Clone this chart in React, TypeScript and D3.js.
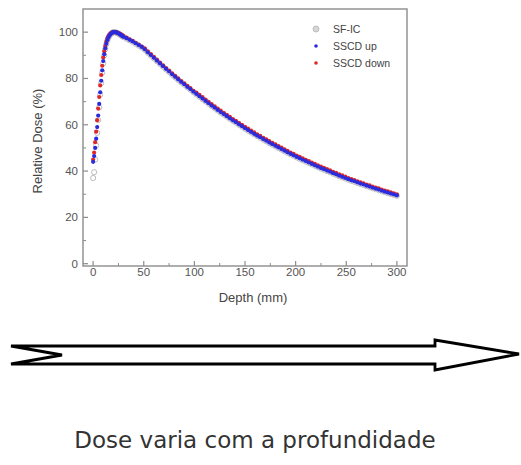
import React from 'react';
import * as d3 from 'd3';

// depth grid (mm): 1 mm steps in build-up, 3 mm steps afterwards
const depths = [
  0, 1, 2, 3, 4, 5, 6, 7, 8, 9, 10, 11, 12, 13, 14, 15, 16, 17, 18, 19, 20,
  21, 22, 23, 24, 25, 26, 27, 28, 29, 30,
  33, 36, 39, 42, 45, 48,
  51, 54, 57, 60, 63, 66, 69, 72, 75, 78, 81, 84, 87, 90, 93, 96, 99,
  102, 105, 108, 111, 114, 117, 120, 123, 126, 129, 132, 135, 138, 141, 144, 147,
  150, 153, 156, 159, 162, 165, 168, 171, 174, 177, 180, 183, 186, 189, 192, 195, 198,
  201, 204, 207, 210, 213, 216, 219, 222, 225, 228, 231, 234, 237, 240, 243, 246, 249,
  252, 255, 258, 261, 264, 267, 270, 273, 276, 279, 282, 285, 288, 291, 294, 297, 300,
];

const sfIC = [
  37, 39.5, 45, 51, 56.5, 62, 67.5, 73, 78, 82.5, 86.5, 90, 92.7, 94.8, 96.4, 97.5,
  98.4, 99.0, 99.5, 99.8, 100, 100, 99.9, 99.8, 99.6, 99.4, 99.1, 98.8, 98.5, 98.2, 97.9,
  97.2, 96.5, 95.8, 95.0, 94.2, 93.4,
  92.4, 91.1, 89.9, 88.7, 87.5, 86.3, 85.1, 83.9, 82.8, 81.6, 80.5, 79.4, 78.3, 77.3, 76.2, 75.2, 74.1,
  73.1, 72.1, 71.1, 70.1, 69.1, 68.1, 67.2, 66.2, 65.3, 64.4, 63.5, 62.6, 61.7, 60.9, 60.0, 59.2,
  58.3, 57.5, 56.7, 55.9, 55.1, 54.4, 53.6, 52.9, 52.1, 51.4, 50.7, 50.0, 49.3, 48.6, 47.9, 47.2, 46.6,
  45.9, 45.3, 44.7, 44.1, 43.5, 42.9, 42.3, 41.7, 41.1, 40.6, 40.0, 39.5, 38.9, 38.4, 37.8, 37.3, 36.8,
  36.3, 35.8, 35.4, 34.9, 34.4, 34.0, 33.5, 33.1, 32.6, 32.2, 31.8, 31.3, 30.9, 30.5, 30.1, 29.7, 29.3,
];

const sscdUp = [
  44, 46.5, 50, 54, 59, 64, 69, 74, 79, 83.5, 87.5, 90.5, 93, 95, 96.5, 97.6,
  98.4, 99.0, 99.5, 99.8, 100, 100, 100, 99.9, 99.7, 99.5, 99.2, 98.9, 98.6, 98.3, 98.0,
  97.4, 96.7, 96.0, 95.2, 94.4, 93.6,
  92.6, 91.3, 90.1, 88.9, 87.7, 86.5, 85.3, 84.1, 83.0, 81.8, 80.7, 79.6, 78.5, 77.5, 76.4, 75.4, 74.3,
  73.3, 72.3, 71.3, 70.3, 69.3, 68.3, 67.4, 66.4, 65.5, 64.6, 63.7, 62.8, 61.9, 61.1, 60.2, 59.4,
  58.5, 57.7, 56.9, 56.1, 55.3, 54.6, 53.8, 53.1, 52.3, 51.6, 50.9, 50.2, 49.5, 48.8, 48.1, 47.4, 46.8,
  46.1, 45.5, 44.9, 44.3, 43.7, 43.1, 42.5, 41.9, 41.3, 40.8, 40.2, 39.7, 39.1, 38.6, 38.0, 37.5, 37.0,
  36.5, 36.0, 35.6, 35.1, 34.6, 34.2, 33.7, 33.3, 32.8, 32.4, 32.0, 31.5, 31.1, 30.7, 30.3, 29.9, 29.5,
];

const sscdDown = [
  45, 48, 52.5, 57, 62, 67, 72, 77, 81.5, 85.5, 89, 91.8, 94, 95.8, 97.2, 98.1,
  98.8, 99.3, 99.7, 99.9, 100, 100, 100, 99.9, 99.8, 99.6, 99.4, 99.1, 98.9, 98.6, 98.3,
  97.6, 96.9, 96.2, 95.4, 94.6, 93.8,
  93.0, 91.7, 90.5, 89.3, 88.1, 86.9, 85.7, 84.5, 83.4, 82.2, 81.1, 80.0, 78.9, 77.9, 76.8, 75.8, 74.7,
  73.9, 72.9, 71.9, 70.9, 69.9, 68.9, 68.0, 67.0, 66.1, 65.2, 64.3, 63.4, 62.5, 61.7, 60.8, 60.0,
  59.1, 58.3, 57.5, 56.7, 55.9, 55.2, 54.4, 53.7, 52.9, 52.2, 51.5, 50.8, 50.1, 49.4, 48.7, 48.0, 47.4,
  46.7, 46.1, 45.5, 44.9, 44.3, 43.7, 43.1, 42.5, 41.9, 41.4, 40.8, 40.3, 39.7, 39.2, 38.6, 38.1, 37.6,
  37.0, 36.5, 36.1, 35.6, 35.1, 34.7, 34.2, 33.8, 33.3, 32.9, 32.5, 32.0, 31.6, 31.2, 30.8, 30.4, 30.0,
];

const xTicks = [0, 50, 100, 150, 200, 250, 300];
const xMinor = [25, 75, 125, 175, 225, 275];
const yTicks = [0, 20, 40, 60, 80, 100];
const yMinor = [10, 30, 50, 70, 90];

const legendItems = ['SF-IC', 'SSCD up', 'SSCD down'];
const caption = 'Dose varia com a profundidade';

const W = 521;
const H = 465;
const axisColor = '#8c8c8c';
const labelColor = '#555';
const font = 'Liberation Sans, Arial, sans-serif';

export default function App() {
  const x = d3.scaleLinear().domain([-10, 310]).range([83, 407]);
  const y = d3.scaleLinear().domain([-1, 110]).range([266, 9]);
  const [x0, x1] = x.range();
  const [y0, y1] = y.range();

  const blue = '#2b2bdc';
  const red = '#e02828';
  const gray = '#b4b4b4';

  // arrow outline
  const arrow = d3.line()([
    [11, 346], [435, 346], [435, 340], [519, 354], [435, 370],
    [435, 364], [11, 364], [62, 355],
  ]) + 'Z';

  return (
    <svg width={W} height={H} style={{ position: 'absolute', left: 0, top: 0, background: '#fff' }}
      fontFamily={font}>
      <rect x={0} y={0} width={W} height={H} fill="#fff" />

      {/* frame */}
      <rect x={x0} y={y1} width={x1 - x0} height={y0 - y1} fill="none" stroke={axisColor} strokeWidth={1.4} />

      {/* x ticks */}
      {xTicks.map(t => (
        <g key={'xt' + t}>
          <line x1={x(t)} x2={x(t)} y1={y0} y2={y0 - 5} stroke={axisColor} strokeWidth={1.2} />
          <text x={x(t)} y={y0 + 10} textAnchor="middle" fontSize={11.5} fill={labelColor}>{t}</text>
        </g>
      ))}
      {xMinor.map(t => (
        <line key={'xm' + t} x1={x(t)} x2={x(t)} y1={y0} y2={y0 - 3} stroke={axisColor} strokeWidth={1} />
      ))}

      {/* y ticks */}
      {yTicks.map(t => (
        <g key={'yt' + t}>
          <line x1={x0} x2={x0 + 5} y1={y(t)} y2={y(t)} stroke={axisColor} strokeWidth={1.2} />
          <text x={x0 - 5} y={y(t) + 4} textAnchor="end" fontSize={11.5} fill={labelColor}>{t}</text>
        </g>
      ))}
      {yMinor.map(t => (
        <line key={'ym' + t} x1={x0} x2={x0 + 3} y1={y(t)} y2={y(t)} stroke={axisColor} strokeWidth={1} />
      ))}

      {/* axis titles */}
      <text x={(x0 + x1) / 2 + 8} y={302} textAnchor="middle" fontSize={13} fill="#444">Depth (mm)</text>
      <text transform={`translate(42, ${141}) rotate(-90)`} textAnchor="middle" fontSize={13} fill="#444">
        Relative Dose (%)
      </text>

      {/* series */}
      <g>
        {depths.map((d, i) => (
          <circle key={'g' + i} cx={x(d)} cy={y(sfIC[i])} r={2.6} fill="none" stroke={gray} strokeWidth={0.9} />
        ))}
      </g>
      <g>
        {depths.map((d, i) => (
          <circle key={'r' + i} cx={x(d)} cy={y(sscdDown[i])} r={2.1} fill={red} />
        ))}
      </g>
      <g>
        {depths.map((d, i) => (
          <circle key={'b' + i} cx={x(d)} cy={y(sscdUp[i])} r={2.1} fill={blue} />
        ))}
      </g>

      {/* legend */}
      {legendItems.map((name, i) => {
        const ly = 29 + i * 17;
        return (
          <g key={name}>
            {i === 0 ? (
              <circle cx={316} cy={ly} r={3} fill="#d6d6d6" stroke={gray} strokeWidth={0.8} />
            ) : (
              <circle cx={316} cy={ly} r={1.8} fill={i === 1 ? blue : red} />
            )}
            <text x={333} y={ly + 3.5} fontSize={10.5} fill="#444">{name}</text>
          </g>
        );
      })}

      {/* arrow */}
      <path d={arrow} fill="#fff" stroke="#000" strokeWidth={2.8} strokeLinejoin="miter" />

      {/* caption */}
      <text x={255} y={448} textAnchor="middle" fontSize={23} fill="#333"
        fontFamily="DejaVu Sans, sans-serif">{caption}</text>
    </svg>
  );
}
